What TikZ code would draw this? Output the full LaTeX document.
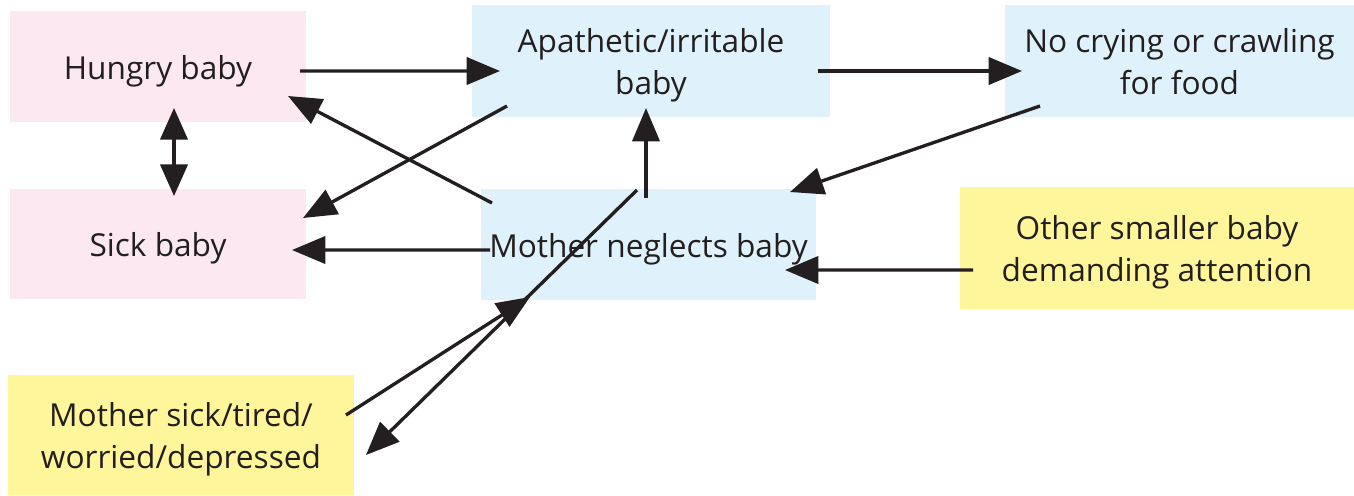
\documentclass[tikz,border=0pt]{standalone}
\usepackage{fontspec}
\setmainfont{Open Sans}
\usetikzlibrary{arrows.meta,calc}
\definecolor{pinkbox}{HTML}{FCE8F0}
\definecolor{bluebox}{HTML}{DFF1FA}
\definecolor{yellowbox}{HTML}{FFF59B}
\definecolor{ink}{HTML}{231F20}
\newcommand\boxtext[1]{\raisebox{-2.4pt}[\height][\depth]{\begin{tabular}{@{}c@{}}#1\end{tabular}}}
\tikzset{
  box/.style={rectangle, inner sep=0pt, text=ink,
    font=\fontsize{18}{23.8}\selectfont},
  arr/.style={draw=ink, line width=1.9pt, -{Triangle[length=19pt,width=15.5pt]}},
  darr/.style={draw=ink, line width=1.9pt, {Triangle[length=18pt,width=15.5pt]}-{Triangle[length=18pt,width=15.5pt]}}
}
\begin{document}
\begin{tikzpicture}[x=0.02cm,y=-0.02cm]
\useasboundingbox (0,0) rectangle (1354,495);
\node[box, fill=pinkbox, minimum width=5.92cm, minimum height=2.22cm] (hungry) at (158,66.5) {\boxtext{Hungry baby}};
\node[box, fill=pinkbox, minimum width=5.92cm, minimum height=2.2cm] (sick) at (158,244) {\boxtext{Sick baby}};
\node[box, fill=bluebox, minimum width=7.16cm, minimum height=2.24cm] (apath) at (651,61) {\boxtext{Apathetic/irritable\\baby}};
\node[box, fill=bluebox, minimum width=6.98cm, minimum height=2.24cm] (nocry) at (1179.5,61) {\boxtext{No crying or crawling\\for food}};
\node[box, fill=bluebox, minimum width=6.7cm, minimum height=2.22cm] (neglect) at (648.5,244.5) {\boxtext{Mother neglects baby}};
\node[box, fill=yellowbox, minimum width=7.88cm, minimum height=2.44cm] (other) at (1157,248) {\boxtext{Other smaller baby\\demanding attention}};
\node[box, fill=yellowbox, minimum width=6.92cm, minimum height=2.4cm] (msick) at (181,435) {\boxtext{Mother sick/tired/\\worried/depressed}};

\draw[arr] ($(hungry.center)+(142,4.5)$) -- ($(apath.center)+(-151,10)$);
\draw[arr] ($(apath.center)+(167,10)$) -- ($(nocry.center)+(-157.5,10)$);
\draw[darr] ($(hungry.center)+(16,41.5)$) -- ($(sick.center)+(16,-48)$);
\draw[arr] ($(neglect.center)+(-156.5,-41.5)$) -- ($(hungry.center)+(130,29.5)$);
\draw[arr] ($(apath.center)+(-144,45)$) -- ($(sick.center)+(145,-26)$);
\draw[arr] ($(neglect.center)+(-158.5,5.5)$) -- ($(sick.center)+(134,6)$);
\draw[arr] ($(neglect.center)+(-2.5,-46.5)$) -- ($(apath.center)+(-5,47)$);
\draw[arr] ($(nocry.center)+(-139.5,45)$) -- ($(neglect.center)+(141.5,-52.5)$);
\draw[arr] ($(other.center)+(-184,22)$) -- ($(neglect.center)+(136.5,25.5)$);
\draw[arr] ($(msick.center)+(165,-20)$) -- ($(neglect.center)+(-118.5,52.5)$);
\draw[arr] ($(neglect.center)+(-11.5,-54.5)$) -- ($(msick.center)+(185,20)$);
\end{tikzpicture}
\end{document}
